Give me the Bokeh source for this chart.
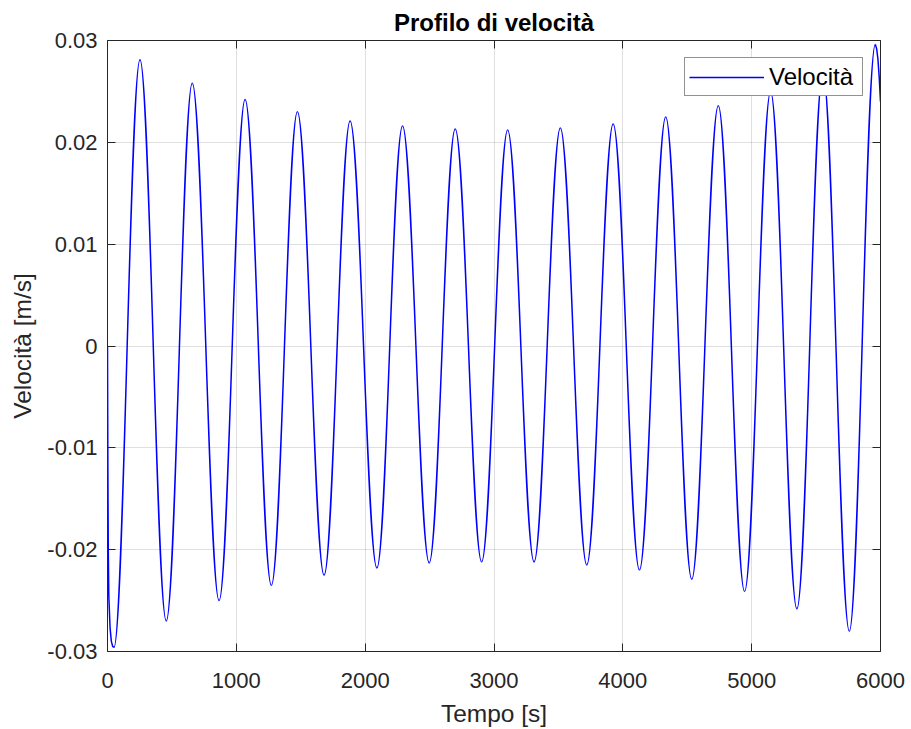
import numpy as np
from bokeh.plotting import figure
from bokeh.models import (Range1d, FixedTicker, LinearAxis, ColumnDataSource,
                          Legend, LegendItem)
from bokeh.embed import file_html
from bokeh.resources import INLINE

# ---- data ----
# initial transient (time [s], velocity [m/s])
start_t = [0, 3, 6, 10, 20, 30, 40, 50]
start_v = [0.0, -0.0120, -0.0200, -0.0245, -0.0277, -0.0290, -0.0295, -0.0296]

# local minima
trough_t = [50, 456, 866, 1272, 1681, 2091, 2497, 2904, 3311, 3720, 4129, 4535, 4945, 5351, 5758]
trough_v = [-0.0296, -0.0270, -0.0250, -0.0235, -0.0225, -0.0218, -0.0213, -0.0212,
            -0.0212, -0.0215, -0.0220, -0.0229, -0.0241, -0.0258, -0.0280]

# local maxima
peak_t = [252, 658, 1068, 1474, 1883, 2290, 2699, 3106, 3515, 3925, 4333, 4741, 5147, 5553, 5960]
peak_v = [0.0281, 0.0258, 0.0242, 0.0230, 0.0221, 0.0216, 0.0213, 0.0212,
          0.0214, 0.0218, 0.0225, 0.0236, 0.0250, 0.0269, 0.0296]

# last partial descent to the end of the record
end_t = [5960, 5970, 5980, 5990, 6000]
end_v = [0.0296, 0.0292, 0.0282, 0.0264, 0.0240]

x_ticks = [0, 1000, 2000, 3000, 4000, 5000, 6000]
x_tick_labels = ["0", "1000", "2000", "3000", "4000", "5000", "6000"]
y_ticks = [-0.03, -0.02, -0.01, 0, 0.01, 0.02, 0.03]
y_tick_labels = ["-0.03", "-0.02", "-0.01", "0", "0.01", "0.02", "0.03"]

title_text = "Profilo di velocità"
x_label = "Tempo [s]"
y_label = "Velocità [m/s]"
series_label = "Velocità"

# ---- styling ----
FONT = "Liberation Sans"
DARK = "#262626"
BLUE = "#0000ff"
LW = 1.5

p = figure(width=905, height=729, output_backend="svg", toolbar_location=None,
           x_range=Range1d(0, 6000), y_range=Range1d(-0.03, 0.03),
           min_border_left=107, min_border_right=25, min_border_top=40, min_border_bottom=78)
p.background_fill_color = "white"
p.border_fill_color = "white"
p.outline_line_color = None

p.title.text = title_text
p.title.align = "center"
p.title.text_font = FONT
p.title.text_font_size = "24px"
p.title.text_font_style = "bold"
p.title.text_color = "black"

# extrema merged in time order, smooth half-waves drawn with the Bezier glyph
ext = sorted(zip(trough_t + peak_t, trough_v + peak_v))
et = np.array([e[0] for e in ext], dtype=float)
ev = np.array([e[1] for e in ext], dtype=float)
c = 0.365
dt = et[1:] - et[:-1]
bez = ColumnDataSource(dict(x0=et[:-1], y0=ev[:-1], x1=et[1:], y1=ev[1:],
                            cx0=et[:-1] + c * dt, cy0=ev[:-1],
                            cx1=et[1:] - c * dt, cy1=ev[1:]))
p.bezier(x0="x0", y0="y0", x1="x1", y1="y1", cx0="cx0", cy0="cy0", cx1="cx1", cy1="cy1",
         source=bez, line_color=BLUE, line_width=LW)
r_start = p.line(start_t, start_v, line_color=BLUE, line_width=LW)
p.line(end_t, end_v, line_color=BLUE, line_width=LW)

# grid
for g in (p.xgrid, p.ygrid):
    g.grid_line_color = DARK
    g.grid_line_alpha = 0.15
    g.grid_line_width = 1
p.xgrid.ticker = FixedTicker(ticks=x_ticks)
p.ygrid.ticker = FixedTicker(ticks=y_ticks)


def style_axis(ax, show_labels):
    ax.major_tick_in = 8
    ax.major_tick_out = 0
    ax.minor_tick_in = 0
    ax.minor_tick_out = 0
    ax.axis_line_color = DARK
    ax.axis_line_width = 1
    ax.major_tick_line_color = DARK
    ax.major_tick_line_width = 1
    ax.major_label_text_font = FONT
    ax.axis_label_text_font = FONT
    ax.axis_label_text_color = DARK
    ax.axis_label_text_font_style = "normal"
    ax.axis_label_text_font_size = "24.5px"
    if show_labels:
        ax.major_label_text_font_size = "22px"
        ax.major_label_text_color = DARK
    else:
        # box-style ticks only: labels are not painted at all
        ax.major_label_text_font_size = "2px"
        ax.major_label_text_color = None
        ax.major_label_standoff = 0


xa = p.xaxis[0]
ya = p.yaxis[0]
xa.ticker = FixedTicker(ticks=x_ticks)
ya.ticker = FixedTicker(ticks=y_ticks)
xa.major_label_overrides = dict(zip(x_ticks, x_tick_labels))
ya.major_label_overrides = dict(zip(y_ticks, y_tick_labels))
style_axis(xa, True)
style_axis(ya, True)
xa.axis_label = x_label
ya.axis_label = y_label
xa.major_label_standoff = 21
ya.major_label_standoff = 10
xa.axis_label_standoff = 9
ya.axis_label_standoff = 8

top = LinearAxis(ticker=FixedTicker(ticks=x_ticks))
right = LinearAxis(ticker=FixedTicker(ticks=y_ticks))
style_axis(top, False)
style_axis(right, False)
p.add_layout(top, "above")
p.add_layout(right, "right")

legend = Legend(items=[LegendItem(label=series_label, renderers=[r_start])],
                location=(577, 555))
legend.margin = 0
legend.padding = 4
legend.spacing = 0
legend.glyph_width = 75
legend.glyph_height = 20
legend.label_standoff = 5
legend.label_width = 89
legend.label_height = 29
legend.label_text_font = FONT
legend.label_text_font_size = "24px"
legend.label_text_color = "black"
legend.border_line_color = DARK
legend.border_line_width = 1
legend.background_fill_color = "white"
legend.background_fill_alpha = 1
p.add_layout(legend, "center")

open("out.html", "w").write(file_html(p, INLINE))
